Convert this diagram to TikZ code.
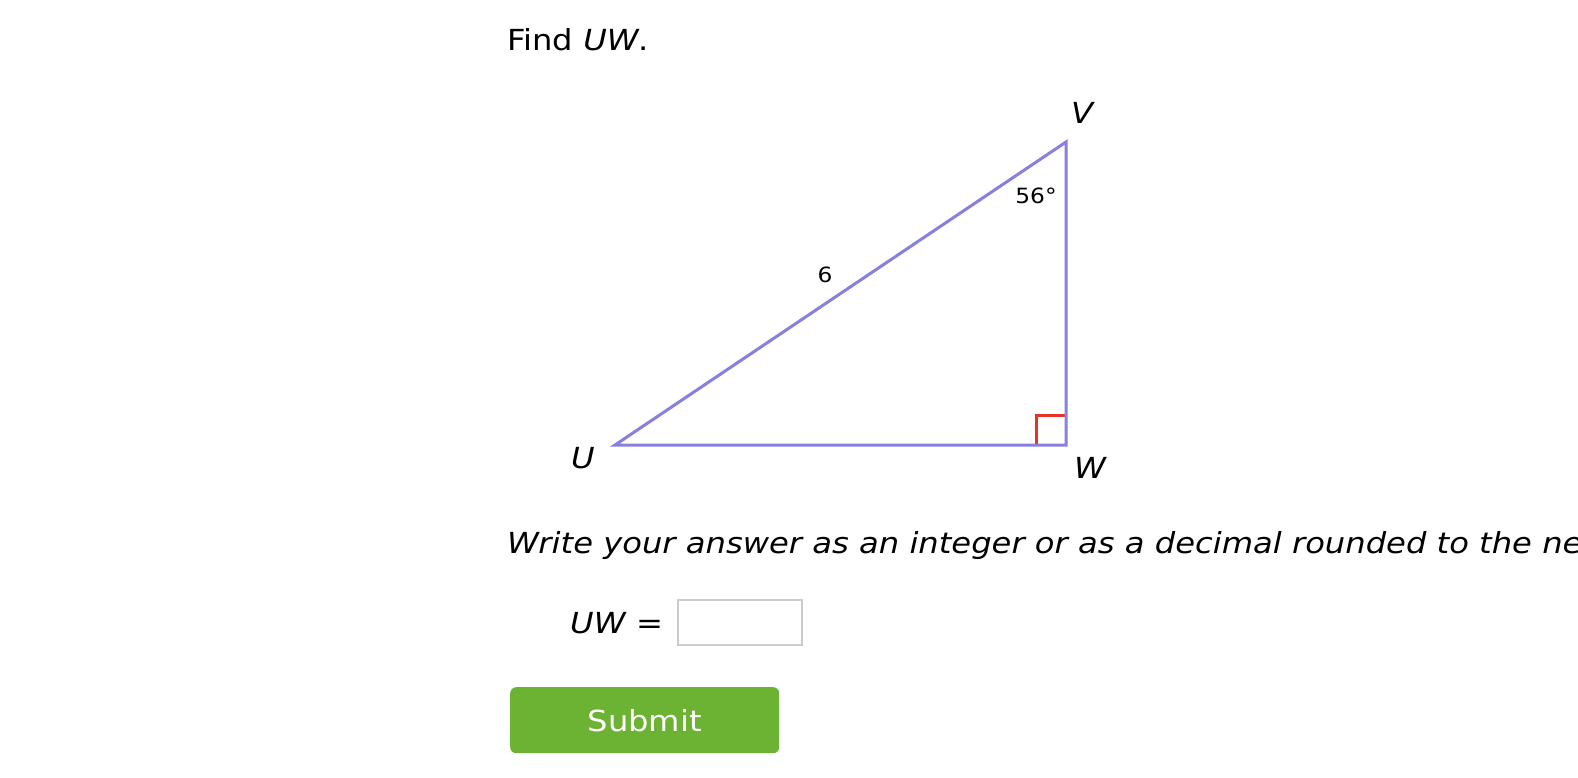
\documentclass[tikz,border=0pt]{standalone}
\usepackage{fontspec}
\setmainfont{DejaVu Sans}[FakeStretch=1.11]
\definecolor{tri}{RGB}{136,128,222}
\definecolor{ra}{RGB}{232,50,38}
\definecolor{btn}{RGB}{109,179,51}
\definecolor{boxgray}{RGB}{204,204,204}
\tikzset{
  big/.style={font=\fontsize{29}{35}\selectfont, inner sep=0pt},
  vlab/.style={font=\fontsize{29}{35}\selectfont\itshape, inner sep=0pt},
  small/.style={font=\fontsize{21}{25}\selectfont, inner sep=0pt},
  side/.style={draw=tri, line width=3pt, line cap=butt, line join=miter},
}
\begin{document}
\begin{tikzpicture}[x=1pt,y=-1pt]
\useasboundingbox[fill=white] (0,0) rectangle (1578,778);
\node[big, anchor=base west] (title) at (507,51) {Find \textit{UW}.};
\coordinate (U) at (615,445);
\coordinate (W) at (1066,445);
\coordinate (V) at (1066,142);
\draw[ra, line width=3pt] (1036,445) -- (1036,415) -- (1066,415);
\draw[side] (U) -- (W) -- (V) -- cycle;
\node[vlab] (lV) at (1082,113) {V};
\node[vlab] (lU) at (583,458) {U};
\node[vlab] (lW) at (1090,468) {W};
\node[small] (ang) at (1036,196) {56°};
\node[small] (len) at (825,275) {6};
\begin{scope}
\clip (0,0) rectangle (1578,778);
\node[big, anchor=base west, font=\fontsize{29}{35}\selectfont\itshape] (instr) at (507,553) {Write your answer as an integer or as a decimal rounded to the ne};
\end{scope}
\node[big, anchor=base west] (eq) at (570,633) {\textit{UW} =};
\node[draw=boxgray, line width=2pt, minimum width=124pt, minimum height=45pt, anchor=north west, inner sep=0pt] (ans) at (677,599) {};
\node[fill=btn, rounded corners=6pt, minimum width=269pt, minimum height=66pt, anchor=north west, inner sep=0pt] (btnbox) at (510,687) {};
\node[big, text=white] (sub) at (btnbox.center) {Submit};
\end{tikzpicture}
\end{document}
